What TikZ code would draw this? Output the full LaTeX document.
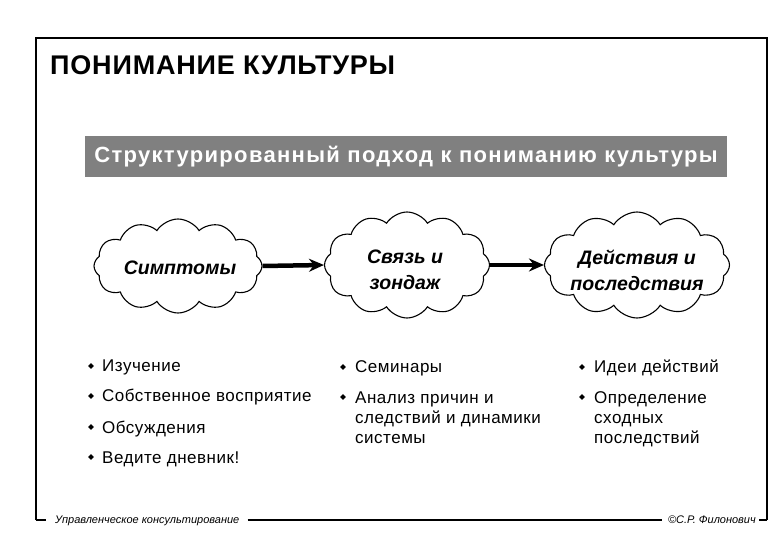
\documentclass[tikz,border=0pt]{standalone}
\usepackage{fontspec}
\setmainfont{Liberation Sans}
\usetikzlibrary{shapes.symbols,shapes.geometric,arrows.meta}
\definecolor{bannergray}{RGB}{128,128,128}
\begin{document}
\begin{tikzpicture}[x=1pt,y=-1pt,
  frame/.style={line width=2.2pt},
  cloudnode/.style={cloud, draw, line width=1.1pt, cloud puffs=12, cloud puff arc=115, cloud ignores aspect, align=center, font=\fontsize{19.5}{26}\selectfont\bfseries\itshape, inner sep=0pt},
  flow/.style={line width=4.5pt, -{Stealth[length=15pt,width=13pt,inset=5pt]}},
  bul/.style={diamond, fill=black, inner sep=0pt, minimum size=6pt},
  item/.style={anchor=base west, align=left, inner sep=0pt, font=\fontsize{17}{20}\selectfont\addfontfeatures{LetterSpace=3}},
  foot/.style={font=\fontsize{11}{13}\selectfont\itshape, inner sep=0pt}
]
\useasboundingbox (0,0) rectangle (780,540);
% frame
\node[foot, anchor=base west] (fl) at (55,523) {Управленческое консультирование};
\node[foot, anchor=base east] (fr) at (756,523) {©С.Р. Филонович};
\coordinate (tl) at (36,38);
\coordinate (tr) at (767,38);
\coordinate (bl) at (36,520);
\coordinate (br) at (767,520);
\draw[frame] (bl) -- (tl) -- (tr) -- (br);
\draw[frame] (bl) -- ([xshift=-9pt]fl.west |- bl);
\draw[frame] ([xshift=8pt]fl.east |- bl) -- ([xshift=-6pt]fr.west |- bl);
\draw[frame] ([xshift=3pt]fr.east |- br) -- (br);
% title
\node[anchor=base west, inner sep=0pt, font=\fontsize{27}{30}\selectfont\bfseries\addfontfeatures{LetterSpace=3}] (title) at (50,75) {ПОНИМАНИЕ КУЛЬТУРЫ};
% banner
\node[fill=bannergray, minimum width=642pt, minimum height=41pt, inner sep=0pt, text=white, font=\fontsize{22}{26}\selectfont\bfseries\addfontfeatures{LetterSpace=6}] (banner) at (406,156.5) {Структурированный подход к пониманию культуры};
% clouds
\node[cloudnode, minimum width=168pt, minimum height=94pt] (c1) at (178,266) {};
\node[cloudnode, draw=none, fill=none, anchor=center] (c1t) at (180,268) {Симптомы};
\node[cloudnode, minimum width=165pt, minimum height=106pt] (c2) at (407,265) {};
\node[cloudnode, draw=none, fill=none, anchor=center] (c2t) at (405,270) {Связь и\\зондаж};
\node[cloudnode, minimum width=185pt, minimum height=106pt] (c3) at (637,265) {};
\node[cloudnode, draw=none, fill=none, anchor=center] (c3t) at (637,270) {Действия и\\последствия};
\draw[flow] (c1.east) -- (c2.west);
\draw[flow] (c2.east) -- (c3.west);
% column 1
\node[bul] (b11) at (91,366) {};
\node[item] (t11) at (102,372) {Изучение};
\node[bul] (b12) at (91,396) {};
\node[item] (t12) at (102,402) {Собственное восприятие};
\node[bul] (b13) at (91,427) {};
\node[item] (t13) at (102,433) {Обсуждения};
\node[bul] (b14) at (91,457) {};
\node[item] (t14) at (102,463) {Ведите дневник!};
% column 2
\node[bul] (b21) at (343,367) {};
\node[item] (t21) at (355,373) {Семинары};
\node[bul] (b22) at (343,397) {};
\node[item] (t22) at (355,443) {Анализ причин и\\следствий и динамики\\системы};
% column 3
\node[bul] (b31) at (582,367) {};
\node[item] (t31) at (594,373) {Идеи действий};
\node[bul] (b32) at (582,397) {};
\node[item] (t32) at (594,443) {Определение\\сходных\\последствий};
\end{tikzpicture}
\end{document}
